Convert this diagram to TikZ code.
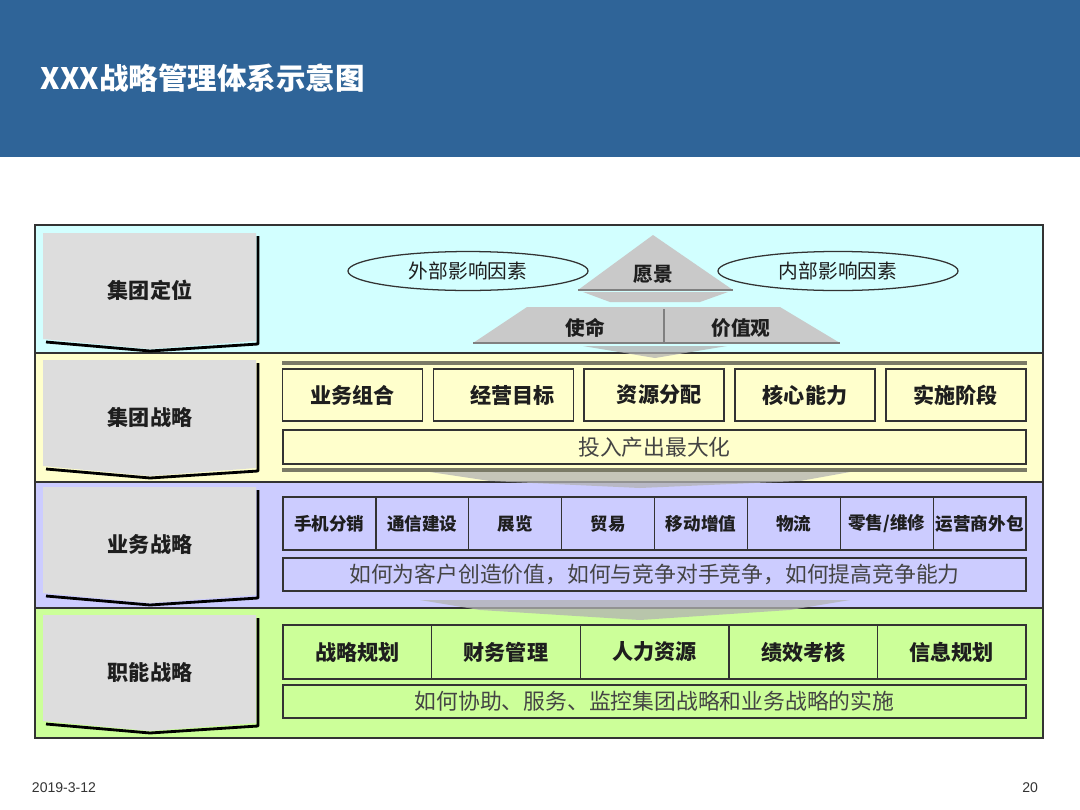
\documentclass[tikz,border=0pt]{standalone}
\usepackage{fontspec}
\setmainfont{Liberation Sans}
\newfontfamily\cjk{Noto Sans CJK SC}
\usetikzlibrary{positioning,shapes.geometric}

\definecolor{titleblue}{HTML}{2F6498}
\definecolor{bandcyan}{HTML}{D2FFFF}
\definecolor{bandyellow}{HTML}{FFFFCC}
\definecolor{bandviolet}{HTML}{CCCCFF}
\definecolor{bandgreen}{HTML}{CCFF99}
\definecolor{chevgray}{HTML}{DDDDDD}
\definecolor{pyrgray}{HTML}{C9C9C9}
\definecolor{framegray}{HTML}{333333}
\definecolor{rulegray}{HTML}{7A7A66}
\definecolor{labelgray}{HTML}{1E1E1E}
\definecolor{textgray}{HTML}{444444}

\begin{document}
\begin{tikzpicture}[
    x=0.025cm, y=-0.025cm,
    frame/.style={draw=framegray, line width=1.4pt},
    tag/.style={font=\cjk\bfseries\fontsize{15pt}{18pt}\selectfont, text=labelgray},
    pyrtext/.style={font=\cjk\bfseries\fontsize{14pt}{17pt}\selectfont, text=labelgray},
    factor/.style={ellipse, draw=framegray, line width=0.9pt, minimum width=6cm, minimum height=0.85cm,
        font=\cjk\fontsize{14pt}{17pt}\selectfont, text=labelgray},
    goalbox/.style={draw=framegray, line width=1pt, inner sep=0pt, outer sep=0pt,
        minimum width=3.5cm, minimum height=1.3cm, tag},
    bizcell/.style={draw=framegray, line width=1pt, inner sep=0pt, outer sep=0pt,
        minimum width=2.322cm, minimum height=1.325cm,
        font=\cjk\bfseries\fontsize{12.5pt}{15pt}\selectfont, text=labelgray},
    funccell/.style={draw=framegray, line width=1pt, inner sep=0pt, outer sep=0pt,
        minimum width=3.715cm, minimum height=1.35cm, tag},
    widebox/.style={draw=framegray, line width=1pt, inner sep=0pt, outer sep=0pt,
        minimum width=18.575cm, minimum height=0.825cm,
        font=\cjk\fontsize{15.5pt}{18pt}\selectfont, text=textgray},
    shade/.style={fill=black!30, opacity=0.75}
    ]
    \useasboundingbox (0,0) rectangle (1080,810);

    % Title bar
    \fill[titleblue] (0,0) rectangle (1080,157);
    \node[anchor=west, text=white, font=\cjk\bfseries\fontsize{21pt}{25pt}\selectfont] (title) at (36,78) {XXX战略管理体系示意图};

    % Bands
    \fill[bandcyan] (35,225) rectangle (1043,353);
    \fill[bandyellow] (35,353) rectangle (1043,482);
    \fill[bandviolet] (35,482) rectangle (1043,608);
    \fill[bandgreen] (35,608) rectangle (1043,738);
    \draw[frame] (35,225) rectangle (1043,738);
    \draw[frame] (35,353) -- (1043,353);
    \draw[frame] (35,482) -- (1043,482);
    \draw[frame] (35,608) -- (1043,608);

    % Left chevrons
    \foreach \y/\t [count=\i] in {233/集团定位, 360/集团战略, 487/业务战略, 615/职能战略} {
        \fill[chevgray] (43,\y) -- (256,\y) -- (256,\y+108) -- (150,\y+116) -- (43,\y+106) -- cycle;
        \draw[line width=2pt, line join=round] (46,\y+109) -- (150,\y+118) -- (258,\y+111) -- (258,\y+3);
        \node[tag] (side\i) at (150,\y+57) {\t};
    }

    % Band 1: pyramid and factors
    \fill[pyrgray] (653,235) -- (733,290) -- (578,290) -- cycle;
    \fill[black!22] (583,292) -- (728,292) -- (700,302) -- (610,302) -- cycle;
    \draw[black!50, line width=1.5pt] (578,290) -- (733,290);
    \fill[pyrgray] (527,307) -- (780,307) -- (840,343) -- (473,343) -- cycle;
    \draw[black!50, line width=1.5pt] (473,343) -- (840,343);
    \draw[black!50, line width=1pt] (664,309) -- (664,343);
    \fill[shade] (583,346) -- (727,346) -- (655,358) -- cycle;
    \node[pyrtext] (vision) at (653,274) {愿景};
    \node[pyrtext] (mission) at (585,328) {使命};
    \node[pyrtext] (values) at (741,328) {价值观};
    \node[factor] (outer) at (468,271) {外部影响因素};
    \node[factor] (inner) at (838,271) {内部影响因素};

    % Band 2: group strategy
    \draw[rulegray, line width=2.2pt] (282,363) -- (1027,363);
    \draw[rulegray, line width=2.2pt] (282,470) -- (1027,470);
    \node[goalbox] (g1) at (352.5,395) {业务组合};
    \node[goalbox, right=0.27cm of g1] (g2) {\hspace{0.45cm}经营目标};
    \node[goalbox, right=0.27cm of g2] (g3) {\hspace{0.25cm}资源分配};
    \node[goalbox, right=0.27cm of g3] (g4) {核心能力};
    \node[goalbox, right=0.27cm of g4] (g5) {实施阶段};
    \node[widebox, minimum height=0.85cm] (gsum) at (654.5,447) {投入产出最大化};
    \fill[shade] (430,472) -- (850,472) -- (800,481) -- (640,488) -- (490,481) -- cycle;

    % Band 3: business strategy
    \node[bizcell] (b1) at (329.4,523.5) {手机分销};
    \node[bizcell, right=0pt of b1] (b2) {通信建设};
    \node[bizcell, right=0pt of b2] (b3) {展览};
    \node[bizcell, right=0pt of b3] (b4) {贸易};
    \node[bizcell, right=0pt of b4] (b5) {移动增值};
    \node[bizcell, right=0pt of b5] (b6) {物流};
    \node[bizcell, right=0pt of b6] (b7) {零售/维修};
    \node[bizcell, right=0pt of b7] (b8) {运营商外包};
    \node[widebox] (bsum) at (654.5,574.5) {如何为客户创造价值，如何与竞争对手竞争，如何提高竞争能力};
    \fill[shade] (420,600) -- (850,600) -- (790,610) -- (640,620) -- (480,610) -- cycle;

    % Band 4: functional strategy
    \node[funccell] (f1) at (357.3,652) {战略规划};
    \node[funccell, right=0pt of f1] (f2) {财务管理};
    \node[funccell, right=0pt of f2] (f3) {人力资源};
    \node[funccell, right=0pt of f3] (f4) {绩效考核};
    \node[funccell, right=0pt of f4] (f5) {信息规划};
    \node[widebox] (fsum) at (654.5,701.5) {如何协助、服务、监控集团战略和业务战略的实施};

    % Footer
    \node[anchor=west, font=\fontsize{10pt}{12pt}\selectfont, text=black!80] (date) at (27,788) {2019-3-12};
    \node[anchor=east, font=\fontsize{10pt}{12pt}\selectfont, text=black!80] (page) at (1043,788) {20};
\end{tikzpicture}
\end{document}
